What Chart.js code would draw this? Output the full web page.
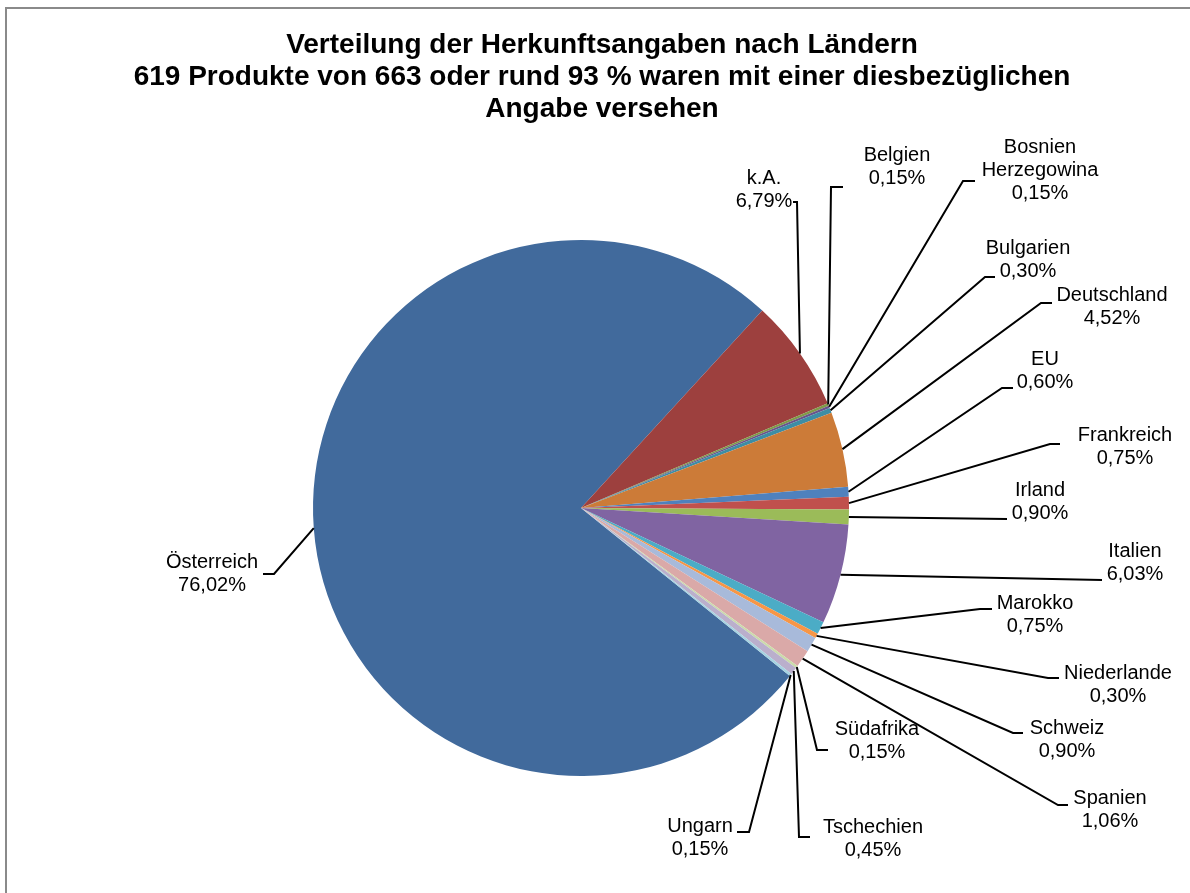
<!DOCTYPE html>
<html>
<head>
<meta charset="utf-8">
<script src="https://cdn.jsdelivr.net/npm/chart.js@4"></script>
<style>
  body { margin: 0; background: #fff; }
  canvas { display: block; }
</style>
</head>
<body>
<canvas id="chart" width="1190" height="893"></canvas>
<script>
// categories and shares (%), in the order the slices are drawn
const countries = ['Österreich', 'k.A.', 'Belgien', 'Bosnien\nHerzegowina', 'Bulgarien', 'Deutschland',
  'EU', 'Frankreich', 'Irland', 'Italien', 'Marokko', 'Niederlande', 'Schweiz', 'Spanien',
  'Südafrika', 'Tschechien', 'Ungarn'];
const shares = [76.02, 6.79, 0.15, 0.15, 0.30, 4.52, 0.60, 0.75, 0.90, 6.03, 0.75, 0.30, 0.90, 1.06,
  0.15, 0.45, 0.15];
const titleLines = ['Verteilung der Herkunftsangaben nach Ländern',
  '619 Produkte von 663 oder rund 93 % waren mit einer diesbezüglichen',
  'Angabe versehen'];

const colors = ['#416A9C', '#9D403E', '#7F9A48', '#69538A', '#3D8DA5', '#CC7B38',
  '#4F81BD', '#C0504D', '#9BBB59', '#8064A2', '#4BACC6', '#F79646',
  '#A8BADA', '#DAA9A8', '#CBDBAA', '#BAAFCC', '#A6D3E1'];

// label placement: text centre (x, first line y), leader elbow (ex, ey), tick end tx
const labelPos = [
  [212, 562, 274, 574, 263],
  [764, 178, 797, 202, 793],
  [897, 155, 831, 187, 843],
  [1040, 147, 963, 181, 975],
  [1028, 248, 985, 277, 995],
  [1112, 295, 1041, 303, 1052],
  [1045, 359, 1002, 388, 1013],
  [1125, 435, 1050, 444, 1060],
  [1040, 490, 1007, 519, 1007],
  [1135, 551, 1102, 580, 1102],
  [1035, 603, 980, 609, 992],
  [1118, 673, 1048, 678, 1059],
  [1067, 728, 1013, 733, 1023],
  [1110, 798, 1058, 805, 1068],
  [877, 729, 817, 750, 828],
  [873, 827, 799, 837, 810],
  [700, 826, 749, 832, 737]
];

const fmt = v => v.toFixed(2).replace('.', ',') + '%';

const labelPlugin = {
  id: 'labels',
  afterDraw(chart) {
    const ctx = chart.ctx;
    ctx.save();
    // frame
    ctx.strokeStyle = '#8a8a8a';
    ctx.lineWidth = 2;
    ctx.strokeRect(6, 8, 1220, 920);
    // title
    ctx.fillStyle = '#000';
    ctx.textAlign = 'center';
    ctx.textBaseline = 'middle';
    ctx.font = 'bold 28px "Liberation Sans", Arial, sans-serif';
    titleLines.forEach((t, i) => ctx.fillText(t, 602, 45 + i * 32));

    const meta = chart.getDatasetMeta(0);
    ctx.font = '20px "Liberation Sans", Arial, sans-serif';
    ctx.strokeStyle = '#000';
    ctx.lineWidth = 2;
    meta.data.forEach((arc, i) => {
      const p = arc.getProps(['x', 'y', 'startAngle', 'endAngle', 'outerRadius'], true);
      const mid = (p.startAngle + p.endAngle) / 2;
      const sx = p.x + Math.cos(mid) * p.outerRadius;
      const sy = p.y + Math.sin(mid) * p.outerRadius;
      const [lx, ly, ex, ey, tx] = labelPos[i];
      ctx.beginPath();
      ctx.moveTo(sx, sy);
      ctx.lineTo(ex, ey);
      ctx.lineTo(tx, ey);
      ctx.stroke();
      const lines = countries[i].split('\n').concat(fmt(shares[i]));
      lines.forEach((t, k) => ctx.fillText(t, lx, ly + k * 23));
    });
    ctx.restore();
  }
};

new Chart(document.getElementById('chart'), {
  type: 'pie',
  data: {
    labels: countries,
    datasets: [{
      data: shares,
      backgroundColor: colors,
      borderWidth: 0,
      hoverOffset: 0
    }]
  },
  options: {
    responsive: false,
    animation: false,
    rotation: 128.8,
    layout: { padding: { left: 313, right: 341, top: 240, bottom: 117 } },
    plugins: {
      legend: { display: false },
      title: { display: false },
      tooltip: { enabled: false }
    }
  },
  plugins: [labelPlugin]
});
</script>
</body>
</html>
